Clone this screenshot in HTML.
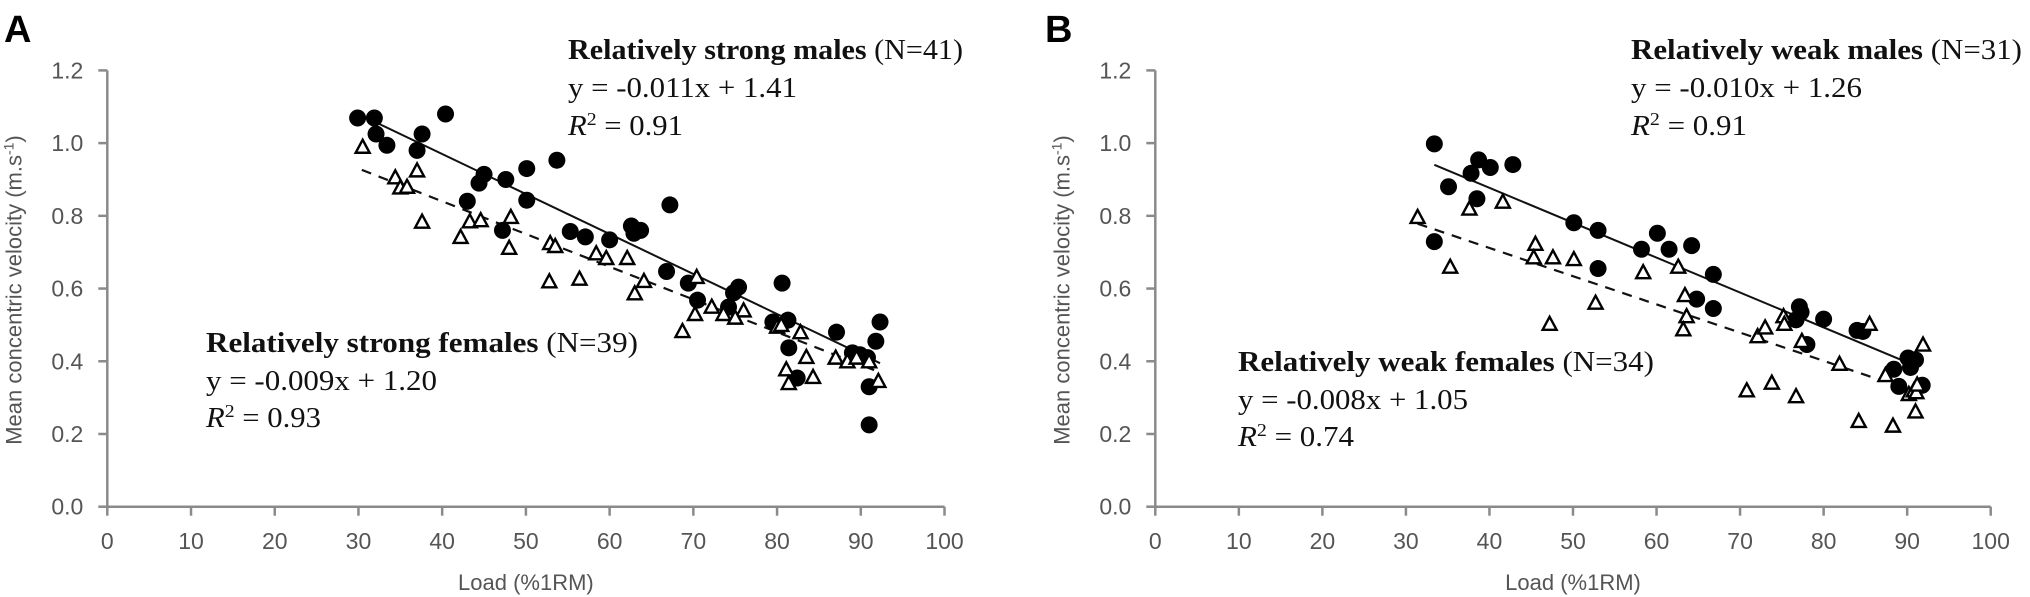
<!DOCTYPE html>
<html><head><meta charset="utf-8"><style>
html,body{margin:0;padding:0;background:#fff;}
svg{display:block;}
</style></head><body>
<svg id="fig" width="2030" height="597" viewBox="0 0 2030 597" xmlns="http://www.w3.org/2000/svg">
<text x="4" y="42" font-family="Liberation Sans, sans-serif" font-weight="bold" font-size="38">A</text>
<text x="1045" y="42" font-family="Liberation Sans, sans-serif" font-weight="bold" font-size="38">B</text>
<g font-family="Liberation Serif, serif" font-size="28" fill="#111">
<text x="568" y="59" textLength="395" lengthAdjust="spacingAndGlyphs"><tspan font-weight="bold">Relatively strong males</tspan> (N=41)</text>
<text x="568" y="97" textLength="229" lengthAdjust="spacingAndGlyphs">y = -0.011x + 1.41</text>
<text x="568" y="135" textLength="115" lengthAdjust="spacingAndGlyphs"><tspan font-style="italic">R</tspan><tspan font-size="18" dy="-10">2</tspan><tspan dy="10"> = 0.91</tspan></text>
<text x="206" y="352" textLength="432" lengthAdjust="spacingAndGlyphs"><tspan font-weight="bold">Relatively strong females</tspan> (N=39)</text>
<text x="206" y="390" textLength="231" lengthAdjust="spacingAndGlyphs">y = -0.009x + 1.20</text>
<text x="206" y="427" textLength="115" lengthAdjust="spacingAndGlyphs"><tspan font-style="italic">R</tspan><tspan font-size="18" dy="-10">2</tspan><tspan dy="10"> = 0.93</tspan></text>
<text x="1631" y="59" textLength="391" lengthAdjust="spacingAndGlyphs"><tspan font-weight="bold">Relatively weak males</tspan> (N=31)</text>
<text x="1631" y="97" textLength="231" lengthAdjust="spacingAndGlyphs">y = -0.010x + 1.26</text>
<text x="1631" y="135" textLength="116" lengthAdjust="spacingAndGlyphs"><tspan font-style="italic">R</tspan><tspan font-size="18" dy="-10">2</tspan><tspan dy="10"> = 0.91</tspan></text>
<text x="1238" y="371" textLength="416" lengthAdjust="spacingAndGlyphs"><tspan font-weight="bold">Relatively weak females</tspan> (N=34)</text>
<text x="1238" y="409" textLength="230" lengthAdjust="spacingAndGlyphs">y = -0.008x + 1.05</text>
<text x="1238" y="446" textLength="116" lengthAdjust="spacingAndGlyphs"><tspan font-style="italic">R</tspan><tspan font-size="18" dy="-10">2</tspan><tspan dy="10"> = 0.74</tspan></text>
</g>
</svg>
<script>
const xTicks = [0,10,20,30,40,50,60,70,80,90,100];
const yTicks = [0.0,0.2,0.4,0.6,0.8,1.0,1.2];
const yTickLabels = ["0.0","0.2","0.4","0.6","0.8","1.0","1.2"];

const aMaleX = [29.9,31.9,32.1,33.4,37.0,37.6,40.4,43,44.4,45,47.2,47.6,50.1,50.1,53.7,55.3,57.1,60,62.6,62.9,63.7,66.8,67.2,69.4,70.5,75.4,74.8,74.2,80.6,79.5,81.3,81.4,82.4,87.1,89.0,89.9,90.8,92.3,91.8,91.0,91.0];
const aMaleY = [1.069,1.069,1.025,0.994,0.98,1.025,1.08,0.84,0.89,0.914,0.76,0.90,0.93,0.843,0.953,0.757,0.742,0.734,0.772,0.752,0.76,0.647,0.83,0.615,0.568,0.604,0.588,0.549,0.615,0.508,0.513,0.437,0.354,0.48,0.423,0.418,0.41,0.508,0.455,0.33,0.225];
const aFemX = [30.5,34.4,35.0,35.8,37.0,37.6,42.2,43.3,44.6,48,48.2,52.8,52.9,53.5,56.4,58.4,59.6,62.1,63,64.1,68.7,70.4,70.2,72.2,73.6,76,80,82.8,83.5,81.1,81.4,84.3,87,88.4,92.1,89.5,91,75,80.5];
const aFemY = [0.99,0.906,0.878,0.88,0.925,0.784,0.742,0.785,0.788,0.712,0.797,0.62,0.725,0.717,0.627,0.697,0.684,0.684,0.587,0.621,0.483,0.632,0.53,0.55,0.53,0.54,0.495,0.48,0.412,0.378,0.34,0.357,0.41,0.40,0.346,0.41,0.40,0.52,0.5];
const aMaleFit = [-0.011,1.41,32,92.3];
const aFemFit = [-0.009,1.20,30.4,92];

const bMaleX = [33.4,33.4,35.1,37.8,38.7,38.5,40.1,42.8,50.1,53,53,58.2,60.1,61.5,64.2,64.8,66.8,66.8,77.1,77.3,76.7,78,80,84,84.7,88.4,89,90.1,90.4,91,91.8];
const bMaleY = [0.998,0.729,0.88,0.917,0.954,0.847,0.933,0.941,0.781,0.76,0.655,0.708,0.752,0.708,0.718,0.571,0.639,0.545,0.55,0.535,0.514,0.446,0.516,0.485,0.482,0.378,0.331,0.409,0.383,0.404,0.334];
const bFemX = [31.4,35.3,37.6,41.6,45.5,45.3,47.6,47.2,50.1,52.7,58.4,62.6,63.4,63.6,63.2,70.8,72.1,73,73.8,75.2,75.3,76.7,77.4,81.9,84.2,85.5,87.4,88.3,90.2,90.8,91,91.9,91.1,91.2];
const bFemY = [0.797,0.66,0.82,0.839,0.723,0.686,0.686,0.503,0.681,0.561,0.645,0.66,0.582,0.524,0.488,0.32,0.469,0.493,0.341,0.524,0.503,0.304,0.456,0.393,0.236,0.503,0.362,0.223,0.31,0.32,0.262,0.446,0.315,0.336];
const bMaleFit = [-0.0096,1.261,33.4,89.3];
const bFemFit = [-0.00776,1.022,31.4,87.1];

const NS = "http://www.w3.org/2000/svg";
const svg = document.getElementById('fig');
function mk(tag, attrs, parent){ const e=document.createElementNS(NS,tag); for(const k in attrs) e.setAttribute(k,attrs[k]); (parent||svg).appendChild(e); return e; }

function panel(id, x0, x100, mX, mY, fX, fY, mFit, fFit){
  const y0 = 506.7, y12 = 70.4;
  const sx = v => x0 + (x100-x0)*v/100;
  const sy = v => y0 - (y0-y12)*v/1.2;
  const g = mk('g',{});
  
  
  const ax = mk('g',{stroke:'#8a8a8a','stroke-width':2.5,fill:'none'},g);
  
  
  mk('line',{x1:sx(0),y1:sy(0),x2:sx(100),y2:sy(0)},ax);
  mk('line',{x1:sx(0),y1:sy(0),x2:sx(0),y2:sy(1.2)},ax);
  xTicks.forEach(t=>{ mk('line',{x1:sx(t),y1:sy(0),x2:sx(t),y2:sy(0)+9},ax);
    const tx = mk('text',{x:sx(t),y:549,'text-anchor':'middle','font-family':'Liberation Sans, sans-serif','font-size':23,fill:'#555'},g);
    tx.textContent = t;
    
    
  });
  yTicks.forEach((t,i)=>{ mk('line',{x1:sx(0)-9,y1:sy(t),x2:sx(0),y2:sy(t)},ax);
    const tx = mk('text',{x:sx(0)-24,y:sy(t)+8,'text-anchor':'end','font-family':'Liberation Sans, sans-serif','font-size':23,fill:'#555'},g);
    tx.textContent = yTickLabels[i];
    
    
  });
  const xl = mk('text',{x:(sx(0)+sx(100))/2+channelOff(id),y:590,'text-anchor':'middle','font-family':'Liberation Sans, sans-serif','font-size':22,fill:'#555'},g);
  xl.textContent = 'Load (%1RM)';
  
  
  const lx = sx(0)-86, ly = 290;
  const yl = mk('text',{x:lx,y:ly,'text-anchor':'middle','font-family':'Liberation Sans, sans-serif','font-size':22,fill:'#555',transform:`rotate(-90 ${lx} ${ly})`},g);
  yl.innerHTML = 'Mean concentric velocity (m.s<tspan font-size="14" dy="-8">-1</tspan><tspan dy="8">)</tspan>';
  
  
  // fit lines
  const ml = mk('line',{x1:sx(mFit[2]),y1:sy(mFit[1]+mFit[0]*mFit[2]),x2:sx(mFit[3]),y2:sy(mFit[1]+mFit[0]*mFit[3]),stroke:'#111','stroke-width':2},g);
  
  
  const fl = mk('line',{x1:sx(fFit[2]),y1:sy(fFit[1]+fFit[0]*fFit[2]),x2:sx(fFit[3]),y2:sy(fFit[1]+fFit[0]*fFit[3]),stroke:'#111','stroke-width':2.2,'stroke-dasharray':'10 8'},g);
  
  
  mX.forEach((v,i)=>{ const c = mk('circle',{cx:sx(v),cy:sy(mY[i]),r:8.5,fill:'#000'},g);
    
    
  });
  fX.forEach((v,i)=>{ const cx=sx(v), cy=sy(fY[i]);
    const p = mk('polygon',{points:`${cx},${cy-7} ${cx+7},${cy+6} ${cx-7},${cy+6}`,fill:'#fff',stroke:'#000','stroke-width':2.4},g);
    
    
  });
}
function channelOff(id){ return id==='panel-a' ? 0 : 0; }
panel('panel-a', 107.3, 944.5, aMaleX, aMaleY, aFemX, aFemY, aMaleFit, aFemFit);
panel('panel-b', 1155.3, 1990.7, bMaleX, bMaleY, bFemX, bFemY, bMaleFit, bFemFit);
</script>
</body></html>
